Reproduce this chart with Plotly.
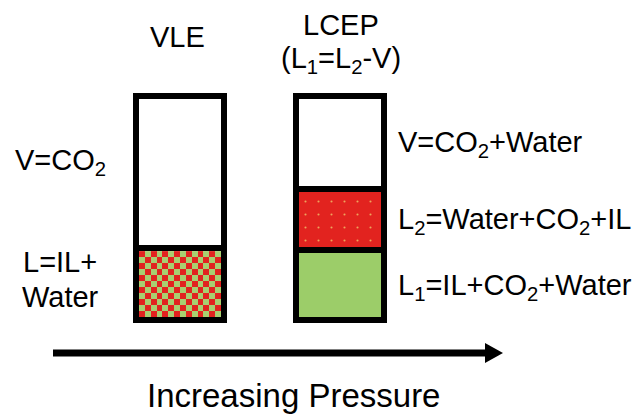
import plotly.graph_objects as go

# ---------------- data ----------------
tubes = ["VLE", "LCEP"]
vle_layers = ["L", "V"]
vle_fractions = [32.1, 67.9]            # % of tube height, bottom -> top
lcep_layers = ["L1", "L2", "V"]
lcep_fractions = [31.3, 27.2, 41.5]     # % of tube height, bottom -> top

tube_titles = ["VLE", "LCEP", "(L<sub>1</sub>=L<sub>2</sub>-V)"]
vle_labels = ["V=CO<sub>2</sub>", "L=IL+", "Water"]
lcep_labels = ["V=CO<sub>2</sub>+Water",
               "L<sub>2</sub>=Water+CO<sub>2</sub>+IL",
               "L<sub>1</sub>=IL+CO<sub>2</sub>+Water"]
caption = "Increasing Pressure"

# ---------------- layout constants ----------------
W, H = 638, 414
FONT = "Liberation Sans, Arial, sans-serif"
tube_centers = [180, 340]       # px
tube_width = 88                 # px (centre of border to centre of border)
border = 6                      # px
tube_bottom_px, tube_top_px = 320, 96
px_per_unit = (tube_bottom_px - tube_top_px) / 100.0
y_lo = -(H - tube_bottom_px) / px_per_unit
y_hi = tube_bottom_px / px_per_unit

RED = "#e2231f"
GREEN = "#9ccd69"
CHECK_GREEN = "#a8d070"
DOT = "#eea55c"

def py(p):  # pixel row -> paper y
    return 1 - p / H

fig = go.Figure()

# checkerboard for VLE liquid (IL + water) -- heatmap layer sits below bars
ncol, nrow = 14, 11
inner_w = tube_width - border
x0_in = tube_centers[0] - inner_w / 2
y0_in = (border / 2) / px_per_unit
y1_in = vle_fractions[0] - (border / 2) / px_per_unit
dx = inner_w / ncol
dy = (y1_in - y0_in) / nrow
z = [[(i + j) % 2 for j in range(ncol)] for i in range(nrow)]
fig.add_trace(go.Heatmap(z=z, x0=x0_in + dx / 2, dx=dx, y0=y0_in + dy / 2, dy=dy,
                         colorscale=[[0, RED], [0.5, RED], [0.5, CHECK_GREEN], [1, CHECK_GREEN]],
                         showscale=False, zsmooth=False, hoverinfo="skip"))

layer_style = {
    "V": dict(color="white"),
    "L1": dict(color=GREEN),
    "L2": dict(color=RED, pattern=dict(shape=".", fgcolor=DOT, fgopacity=1,
                                        size=13, solidity=0.02, fillmode="overlay")),
    "L": dict(color="rgba(0,0,0,0)"),
}

for xc, layers, fracs in [(tube_centers[0], vle_layers, vle_fractions),
                          (tube_centers[1], lcep_layers, lcep_fractions)]:
    base = 0.0
    for name, f in zip(layers, fracs):
        st = layer_style[name]
        marker = dict(color=st["color"], line=dict(color="black", width=border))
        if "pattern" in st:
            marker["pattern"] = st["pattern"]
        fig.add_trace(go.Bar(x=[xc], y=[f], base=[base], width=[tube_width],
                             marker=marker, showlegend=False, hoverinfo="skip"))
        base += f

# ---------------- arrow ----------------
arrow_y = 353
shapes = [
    dict(type="line", xref="x", yref="paper", x0=53, x1=487, y0=py(arrow_y), y1=py(arrow_y),
         line=dict(color="black", width=7)),
    dict(type="path", xref="x", yref="paper",
         path=f"M 485 {py(343)} L 503 {py(353)} L 485 {py(363)} Z",
         fillcolor="black", line=dict(color="black", width=0)),
]

# ---------------- text ----------------
ann = []
def add(text, x, y, size=29, xanchor="center"):
    ann.append(dict(text=text, x=x, y=py(y), xref="x", yref="paper", showarrow=False,
                    xanchor=xanchor, yanchor="middle",
                    font=dict(family=FONT, size=size, color="black")))

add(tube_titles[0], 177, 37)
add(tube_titles[1], 341, 25)
add(tube_titles[2], 341, 60)
add(vle_labels[0], 60, 162)
add(vle_labels[1], 60, 262)
add(vle_labels[2], 60, 297)
add(lcep_labels[0], 396, 144, xanchor="left")
add(lcep_labels[1], 396, 221, xanchor="left")
add(lcep_labels[2], 396, 287, xanchor="left")
add(caption, 293, 395, size=33)

fig.update_layout(
    width=W, height=H, margin=dict(l=0, r=0, t=0, b=0),
    paper_bgcolor="white", plot_bgcolor="white",
    barmode="overlay", bargap=0,
    xaxis=dict(range=[0, W], visible=False, fixedrange=True),
    yaxis=dict(range=[y_lo, y_hi], visible=False, fixedrange=True),
    shapes=shapes, annotations=ann, showlegend=False,
)

fig.write_html("out.html", config={"displayModeBar": False},
               post_script="document.body.style.margin='0';document.body.style.overflow='hidden';")
